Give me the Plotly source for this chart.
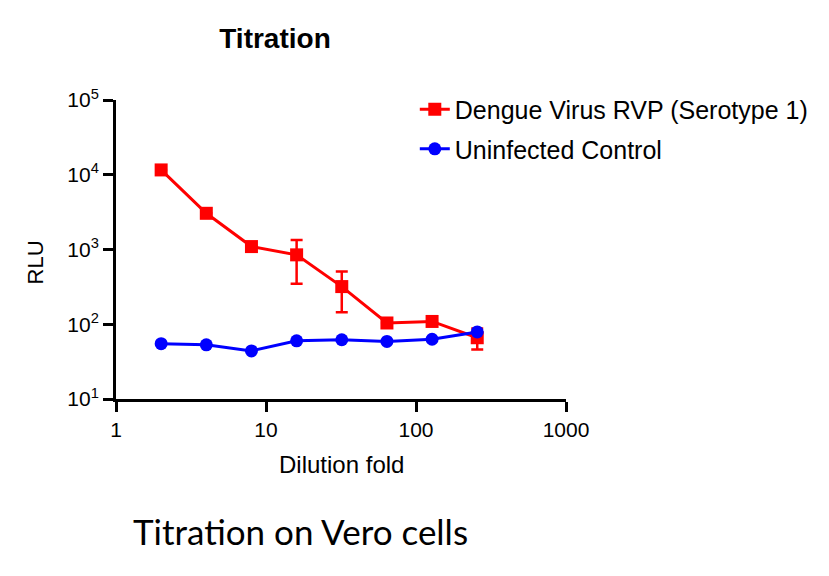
import plotly.graph_objects as go

dilution = [2, 4, 8, 16, 32, 64, 128, 256]
dengue_rlu = [11600, 3050, 1094, 848, 319, 104, 109, 66]
dengue_err_plus = [0, 0, 0, 495, 188, 0, 0, 22]
dengue_err_minus = [0, 0, 0, 501, 174, 0, 0, 20]
control_rlu = [55, 53, 44, 60, 62, 59, 63, 79]

y_ticks = [10, 100, 1000, 10000, 100000]
y_tick_labels = ["10<sup>1</sup>", "10<sup>2</sup>", "10<sup>3</sup>", "10<sup>4</sup>", "10<sup>5</sup>"]
x_ticks = [1, 10, 100, 1000]
x_tick_labels = ["1", "10", "100", "1000"]

RED = "#ff0000"
BLUE = "#0000ff"
FONT = "Liberation Sans, Arial, sans-serif"

fig = go.Figure()
fig.add_trace(
    go.Scatter(
        x=dilution,
        y=dengue_rlu,
        mode="lines+markers",
        name="Dengue Virus RVP (Serotype 1)",
        legendgroup="a",
        line={"color": RED, "width": 3},
        marker={"symbol": "square", "size": 13, "color": RED},
        error_y={
            "type": "data",
            "symmetric": False,
            "array": dengue_err_plus,
            "arrayminus": dengue_err_minus,
            "color": RED,
            "thickness": 2.5,
            "width": 6,
        },
    )
)
fig.add_trace(
    go.Scatter(
        x=dilution,
        y=control_rlu,
        mode="lines+markers",
        name="Uninfected Control",
        legendgroup="b",
        line={"color": BLUE, "width": 3},
        marker={"symbol": "circle", "size": 13, "color": BLUE},
    )
)

axis_style = {
    "showline": True,
    "linecolor": "black",
    "linewidth": 3,
    "ticks": "outside",
    "tickwidth": 3,
    "ticklen": 10,
    "tickcolor": "black",
    "showgrid": False,
    "zeroline": False,
    "tickfont": {"family": FONT, "size": 21, "color": "black"},
}

fig.update_xaxes(type="log", range=[0, 3], tickvals=x_ticks, ticktext=x_tick_labels, **axis_style)
fig.update_yaxes(type="log", range=[1, 5], tickvals=y_ticks, ticktext=y_tick_labels, **axis_style)

fig.update_layout(
    width=829,
    height=576,
    margin={"l": 116, "r": 263, "t": 100, "b": 177},
    paper_bgcolor="white",
    plot_bgcolor="white",
    font={"family": FONT, "color": "black"},
    title={
        "text": "<b>Titration</b>",
        "font": {"size": 28, "family": FONT, "color": "black"},
        "x": (275 - 116) / 450,
        "xref": "paper",
        "xanchor": "center",
        "y": 1 - 38 / 576,
        "yref": "container",
        "yanchor": "middle",
    },
    legend={
        "x": 0.664,
        "y": 1.045,
        "xanchor": "left",
        "yanchor": "top",
        "font": {"size": 25, "family": FONT, "color": "black"},
        "tracegroupgap": 4,
        "bgcolor": "rgba(0,0,0,0)",
    },
    annotations=[
        {
            "text": "RLU",
            "xref": "paper",
            "yref": "paper",
            "x": (35 - 116) / 450,
            "y": (399 - 262) / 300,
            "xanchor": "center",
            "yanchor": "middle",
            "textangle": -90,
            "showarrow": False,
            "font": {"size": 22},
        },
        {
            "text": "Dilution fold",
            "xref": "paper",
            "yref": "paper",
            "x": (341 - 116) / 450,
            "y": (399 - 465) / 300,
            "xanchor": "center",
            "yanchor": "middle",
            "showarrow": False,
            "font": {"size": 24},
        },
        {
            "text": "Titration on Vero cells",
            "xref": "paper",
            "yref": "paper",
            "x": (300 - 116) / 450,
            "y": (399 - 531) / 300,
            "xanchor": "center",
            "yanchor": "middle",
            "showarrow": False,
            "font": {"size": 35, "family": "Lato, Open Sans, sans-serif"},
        },
    ],
)

fig.write_html(
    "out.html",
    config={"displayModeBar": False},
    post_script="document.body.style.margin = '0px';",
)
